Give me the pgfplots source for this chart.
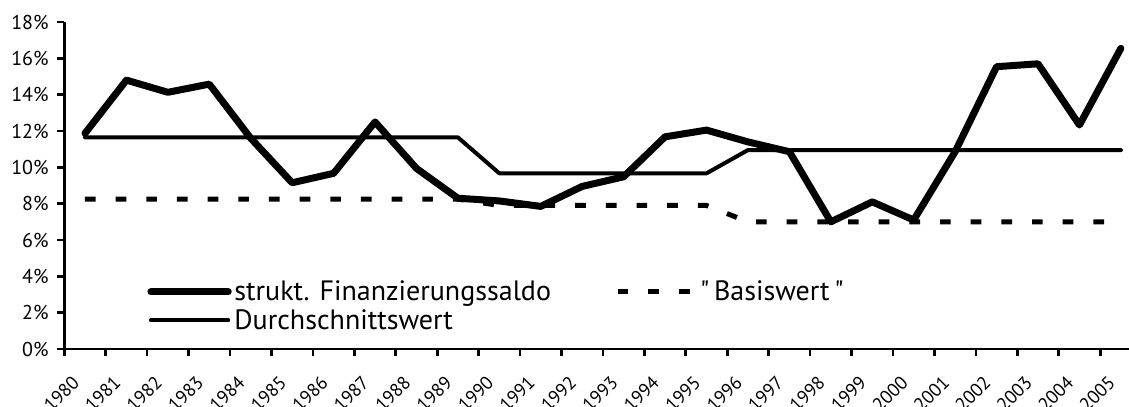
\documentclass[border=0pt]{standalone}
\usepackage{fontspec}
\setmainfont{PT Sans}[Ligatures=TeXOff]
\usepackage{pgfplots}
\pgfplotsset{compat=1.18}
\begin{document}
\begin{tikzpicture}
\begin{axis}[
  at={(48.2pt,43.5pt)}, anchor=south west,
  scale only axis, width=808pt, height=245.25pt,
  xmin=0, xmax=26, ymin=0, ymax=18,
  axis x line*=bottom, axis y line*=left,
  axis line style={-, line width=2pt, black},
  major tick style={line width=2pt, black},
  tick align=outside, major tick length=5.25pt,
  xtick={0,...,25},
  xticklabels={1980,1981,1982,1983,1984,1985,1986,1987,1988,1989,1990,1991,1992,1993,1994,1995,1996,1997,1998,1999,2000,2001,2002,2003,2004,2005},
  x tick label style={xshift=5pt, yshift=-9pt, rotate=45, anchor=north east, font=\fontsize{14}{16}\selectfont},
  ytick={0,2,...,18},
  yticklabel={\pgfmathprintnumber{\tick}\%},
  y tick label style={xshift=-3pt, font=\fontsize{15}{17}\selectfont},
  /pgf/number format/assume math mode=true,
  legend columns=2,
  legend cell align=left,
  legend image code/.code={\draw[#1] (0pt,0pt) -- (58pt,0pt);},
  legend style={at={(axis cs:2,3.9)}, anchor=north west, draw=none, fill=none,
    font=\fontsize{21}{23}\selectfont, inner sep=0pt, row sep=1pt,
    /tikz/every even column/.append style={column sep=46pt}},
]
\addplot[black, line width=5.25pt, line cap=round, line join=round] coordinates {
(0.5,11.87) (1.5,14.8) (2.5,14.13) (3.5,14.58) (4.5,11.6) (5.5,9.15) (6.5,9.67) (7.5,12.5) (8.5,9.94) (9.5,8.3) (10.5,8.15) (11.5,7.85) (12.5,8.95) (13.5,9.48) (14.5,11.68) (15.5,12.05) (16.5,11.4) (17.5,10.86) (18.5,7.0) (19.5,8.1) (20.5,7.1) (21.5,10.86) (22.5,15.54) (23.5,15.7) (24.5,12.33) (25.5,16.55)};
\addlegendentry{strukt. Finanzierungssaldo}
\addplot[black, line width=3.75pt, dash pattern=on 8pt off 15pt] coordinates {
(0.5,8.25) (1.5,8.25) (2.5,8.25) (3.5,8.25) (4.5,8.25) (5.5,8.25) (6.5,8.25) (7.5,8.25) (8.5,8.25) (9.5,8.25) (10.5,7.9) (11.5,7.9) (12.5,7.9) (13.5,7.9) (14.5,7.9) (15.5,7.9) (16.5,7.0) (17.5,7.0) (18.5,7.0) (19.5,7.0) (20.5,7.0) (21.5,7.0) (22.5,7.0) (23.5,7.0) (24.5,7.0) (25.5,7.0)};
\addlegendentry{"\,Basiswert\,"}
\addplot[black, line width=3pt, line cap=round, line join=round] coordinates {
(0.5,11.65) (1.5,11.65) (2.5,11.65) (3.5,11.65) (4.5,11.65) (5.5,11.65) (6.5,11.65) (7.5,11.65) (8.5,11.65) (9.5,11.65) (10.5,9.67) (11.5,9.67) (12.5,9.67) (13.5,9.67) (14.5,9.67) (15.5,9.67) (16.5,10.95) (17.5,10.95) (18.5,10.95) (19.5,10.95) (20.5,10.95) (21.5,10.95) (22.5,10.95) (23.5,10.95) (24.5,10.95) (25.5,10.95)};
\addlegendentry{Durchschnittswert}
\end{axis}
\pgfresetboundingbox
\path[use as bounding box] (0,0) rectangle (846.75pt,305.25pt);
\end{tikzpicture}
\end{document}
